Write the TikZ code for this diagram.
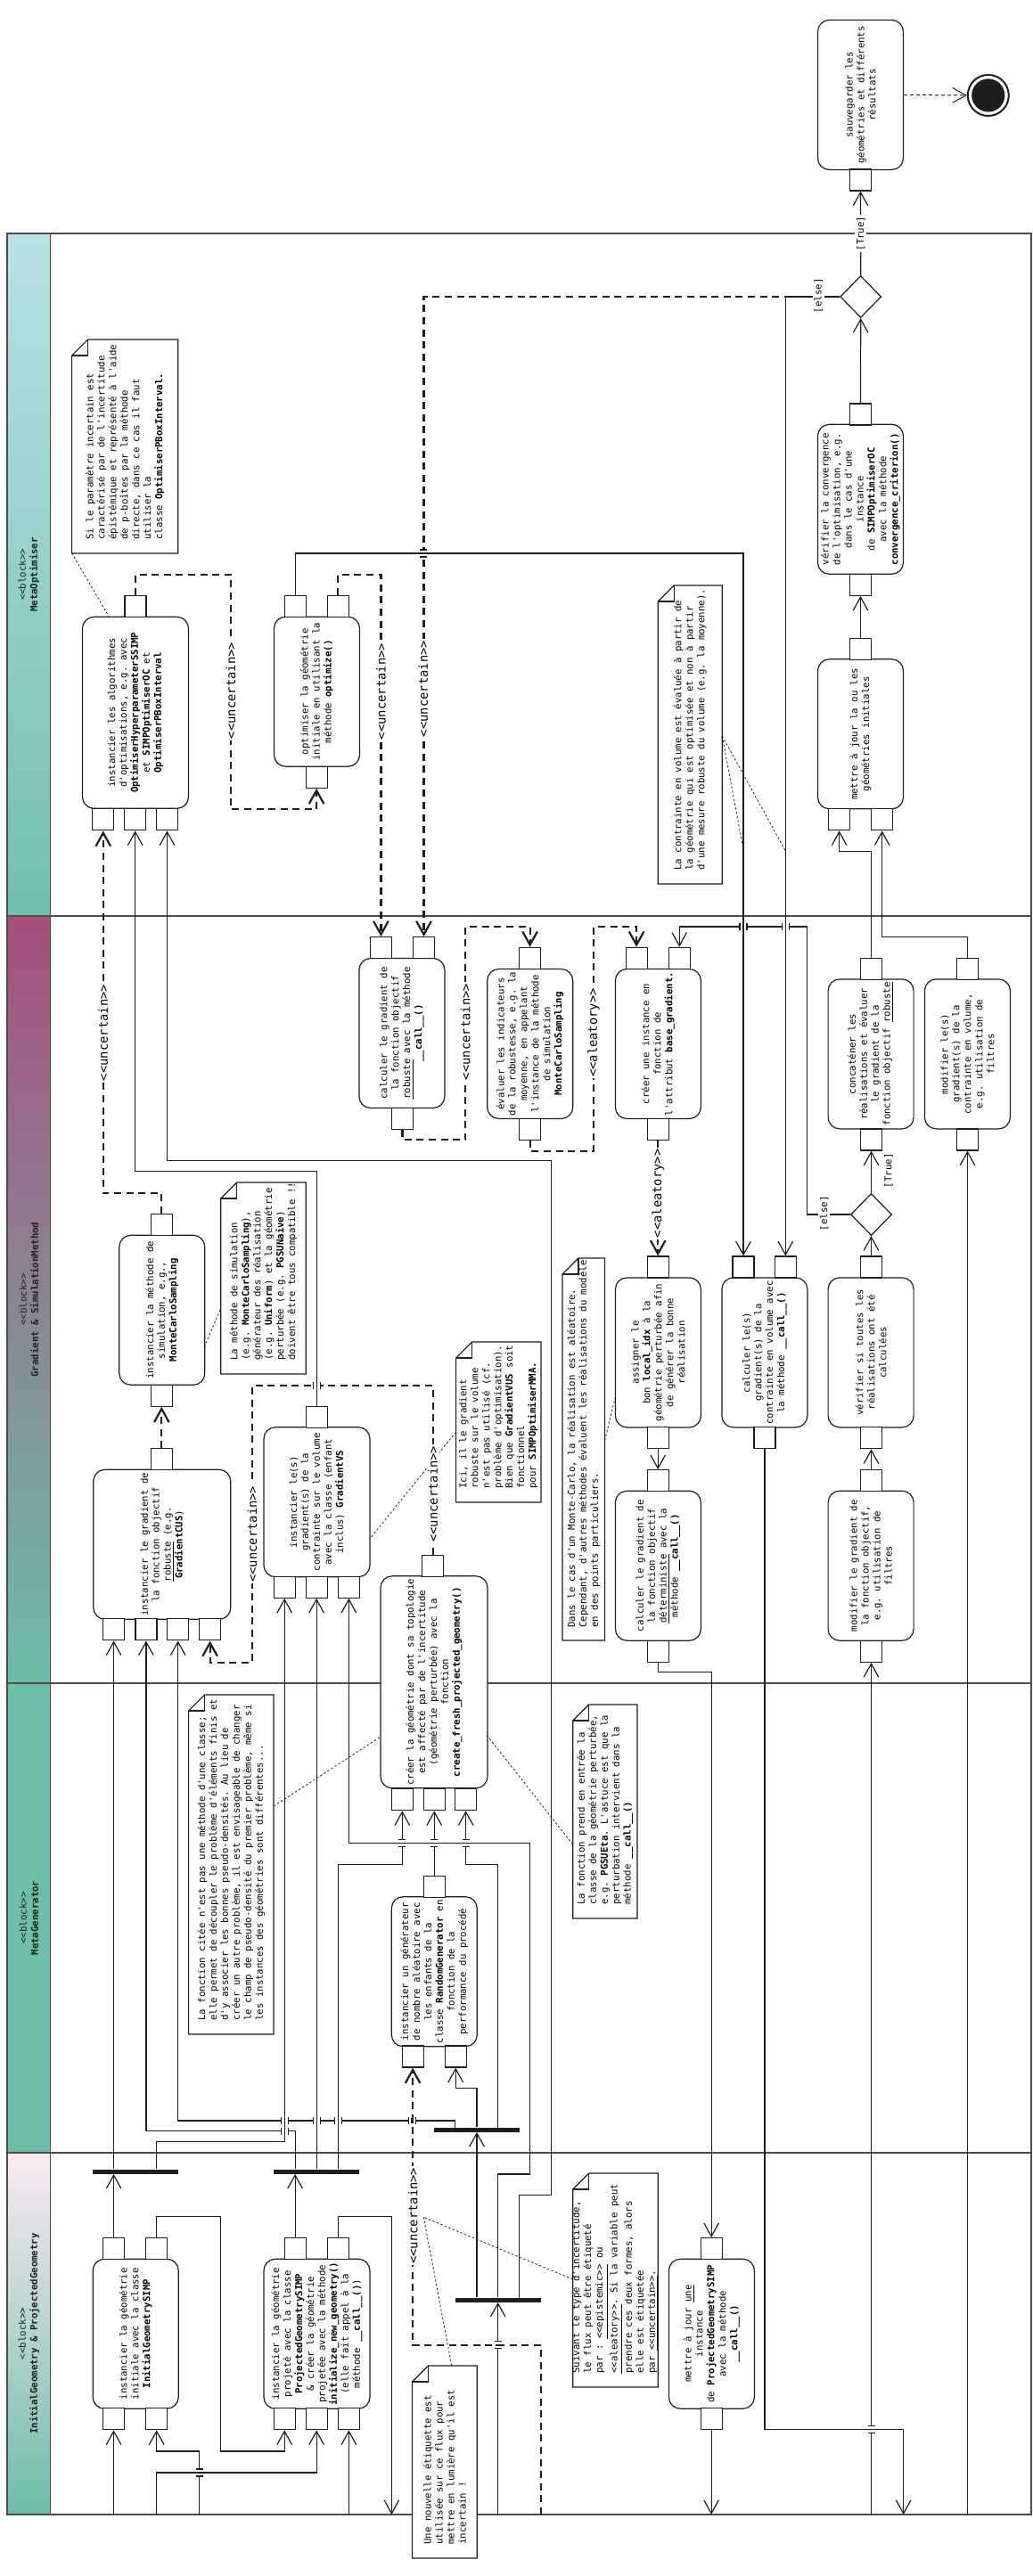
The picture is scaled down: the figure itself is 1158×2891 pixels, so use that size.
\documentclass[tikz,border=0pt]{standalone}
\usepackage{fontspec}
\setmonofont{DejaVu Sans Mono}
\usetikzlibrary{arrows.meta,shapes.geometric}
\definecolor{ink}{HTML}{1E1E1E}
\definecolor{rule}{HTML}{4D4D4D}
\definecolor{optTop}{HTML}{B8E2E2}
\definecolor{optBot}{HTML}{72BFAE}
\definecolor{gradTop}{HTML}{A64F7B}
\definecolor{gradMid}{HTML}{8C8396}
\definecolor{gradBot}{HTML}{6DBDA9}
\definecolor{genFill}{HTML}{6FBEAA}
\definecolor{iniTop}{HTML}{FAEAF2}
\definecolor{iniBot}{HTML}{6DBDA9}

\newcommand\boxfont{\ttfamily\fontsize{5.35}{6.47}\selectfont}
\newcommand\stfont{\ttfamily\fontsize{6.9}{8}\selectfont}
\newcommand\st[1]{\textless\textless#1\textgreater\textgreater}
\newcommand\callm{\textbf{\_\_call\_\_()}}
% gap in a horizontal line, the vertical one passes
\newcommand\hgap[3][jmp]{%
  \fill[white] (#2-4,#3-2.6) rectangle (#2+4,#3+2.6);
  \draw[jmp] (#2-4,#3-4) -- (#2-4,#3+4) (#2+4,#3-4) -- (#2+4,#3+4);
  \draw[#1] (#2,#3-3) -- (#2,#3+3);}
% gap in a vertical line, the horizontal one passes
\newcommand\vgap[3][jmp]{%
  \fill[white] (#2-2.6,#3-4) rectangle (#2+2.6,#3+4);
  \draw[jmp] (#2-4,#3-4) -- (#2+4,#3-4) (#2-4,#3+4) -- (#2+4,#3+4);
  \draw[#1] (#2-3,#3) -- (#2+3,#3);}
% note outline with folded corner (top left)
\newcommand\notefr[4]{%
  \filldraw[notefr] (#1,#2+18) -- (#1+18,#2) -- (#3,#2) -- (#3,#4) -- (#1,#4) -- cycle;
  \draw[notefr,fill=none] (#1+18,#2) -- (#1+18,#2+18) -- (#1,#2+18);}

\tikzset{
  act/.style={draw=ink, line width=0.6pt, fill=white, rounded corners=6.5pt,
    rotate=90, align=center, font=\boxfont, inner sep=1pt,
    minimum width=84pt, minimum height=48pt},
  pinbox/.style={draw=ink, line width=0.6pt, fill=white, minimum size=12pt, inner sep=0pt},
  decision/.style={diamond, draw=ink, line width=0.6pt, fill=white, aspect=1,
    minimum width=23pt, minimum height=23.5pt, inner sep=0pt},
  forkbar/.style={fill=ink, minimum width=48pt, minimum height=2.5pt, inner sep=0pt},
  flow/.style={draw=ink, line width=0.6pt, -{Straight Barb[length=7.5pt,width=8.3pt]}},
  uflow/.style={flow, line width=1.1pt, dash pattern=on 4pt off 2.8pt},
  endflow/.style={flow, line width=0.5pt, dash pattern=on 2pt off 1.5pt},
  anchorline/.style={draw=ink, line width=0.4pt, dash pattern=on 1.2pt off 1.2pt},
  jmp/.style={draw=ink, line width=0.6pt},
  ujmp/.style={draw=ink, line width=1.1pt},
  guard/.style={font=\boxfont, rotate=90, inner sep=0.8pt},
  stereo/.style={font=\stfont, rotate=90, fill=white, inner sep=0.8pt},
  notetxt/.style={font=\boxfont, rotate=90, align=left, anchor=west, inner sep=0pt},
  notefr/.style={draw=ink, line width=0.6pt, fill=white},
  lanehead/.style={font=\boxfont, rotate=90, align=center, text=ink},
  lane/.style={draw=rule, line width=0.7pt},
}

\begin{document}
\begin{tikzpicture}[x=0.5pt,y=-0.5pt]
\useasboundingbox (0,0) rectangle (1158,2891);

% swimlanes
\shade[top color=optTop, bottom color=optBot] (8,262) rectangle (56.2,1028);
\shade[top color=gradTop, middle color=gradMid, bottom color=gradBot] (8,1028) rectangle (56.2,1889);
\fill[genFill] (8,1889) rectangle (56.2,2416);
\shade[top color=iniTop, bottom color=iniBot] (8,2416) rectangle (56.2,2822);
\draw[lane] (8,262) rectangle (1157,2822);
\draw[lane] (56.2,262) -- (56.2,2822);
\foreach \y in {1028,1889,2416} \draw[lane] (8,\y) -- (1157,\y);
\node[lanehead] (hopt) at (32.4,645) {\st{block}\\\textbf{MetaOptimiser}};
\node[lanehead] (hgrad) at (32.4,1458.5) {\st{block}\\\textbf{Gradient \& SimulationMethod}};
\node[lanehead] (hgen) at (32.4,2152.5) {\st{block}\\\textbf{MetaGenerator}};
\node[lanehead] (hini) at (32.4,2619) {\st{block}\\\textbf{InitialGeometry \& ProjectedGeometry}};

% end of the activity
\node[act] (save) at (965.5,106.5) {sauvegarder les\\géométries et différents\\résultats};
\node[pinbox] (saveb) at (965.5,202) {};
\node[draw=ink, circle, line width=1pt, minimum size=23pt, inner sep=0pt] (fin) at (1108.8,107) {};
\fill[ink] (fin.center) circle (9.3pt);
\node[decision] (conv) at (965.7,333) {};

% MetaOptimiser
\notefr{80.6}{381}{199.7}{621}
\node[notetxt] (nepist) at (140.2,606) {Si le paramètre incertain est\\caractérisé par de l'incertitude\\épistémique et représenté à l'aide\\de p-boîtes par la méthode\\directe, dans ce cas il faut\\utiliser la\\classe \textbf{OptimiserPBoxInterval.}};
\node[act, minimum width=107.5pt, minimum height=59.5pt] (algo) at (152,799.8) {instancier les algorithmes\\d'optimisations, e.g. avec\\\textbf{OptimiserHyperparameterSSIMP}\\et \textbf{SIMPOptimiserOC} et\\\textbf{OptimiserPBoxInterval}};
\node[pinbox] (algot) at (152,680.3) {};
\node[pinbox] (algob1) at (115.8,919.8) {};
\node[pinbox] (algob2) at (151.7,919.8) {};
\node[pinbox] (algob3) at (187.5,919.8) {};
\node[act] (optim) at (355.5,776.2) {optimiser la géométrie\\initiale en utilisant la\\méthode \textbf{optimize()}};
\node[pinbox] (optimt1) at (331.1,680.3) {};
\node[pinbox] (optimt2) at (379.2,680.3) {};
\node[pinbox] (optimb) at (355.1,872.2) {};
\notefr{738.2}{657}{810.3}{992}
\node[notetxt] (nvol) at (774.3,977) {La contrainte en volume est évaluée à partir de\\la géométrie qui est optimisée et non à partir\\d'une mesure robuste du volume (e.g. la moyenne).};
\node[act] (check) at (965.5,560.3) {vérifier la convergence\\de l'optimisation, e.g.\\dans le cas d'une\\instance\\de \textbf{SIMPOptimiserOC}\\avec la méthode\\\textbf{convergence\_criterion()}};
\node[pinbox] (checkt) at (965.5,465) {};
\node[pinbox] (checkb) at (965.5,656.3) {};
\node[act] (upd) at (965.5,823.8) {mettre à jour la ou les\\géométries initiales};
\node[pinbox] (updt) at (965.5,728.3) {};
\node[pinbox] (updb1) at (941.6,919.8) {};
\node[pinbox] (updb2) at (989.7,919.8) {};

% Gradient & SimulationMethod
\node[act] (gradrob) at (450.9,1159.5) {calculer le gradient de\\la fonction objectif\\\underline{robuste} avec la méthode\\\callm};
\node[pinbox] (gradrobt1) at (427.4,1063.7) {};
\node[pinbox] (gradrobt2) at (475.5,1063.7) {};
\node[pinbox] (gradrobb) at (451.5,1255.3) {};
\node[act] (robust) at (594.7,1171.5) {évaluer les indicateurs\\de la robustesse, e.g. la\\moyenne, en appelant\\l'instance de la méthode\\de simulation\\\textbf{MonteCarloSampling}};
\node[pinbox] (robustt) at (594.6,1075.3) {};
\node[pinbox] (robustb) at (594.6,1267.3) {};
\node[act] (basegrad) at (738.4,1171.5) {créer une instance en\\fonction de\\l'attribut \textbf{base\_gradient.}};
\node[pinbox] (basegradt1) at (714.1,1075.3) {};
\node[pinbox] (basegradt2) at (762.2,1075.3) {};
\node[pinbox] (basegradb) at (738.2,1267.3) {};
\node[act] (assign) at (738.4,1517.9) {assigner le\\bon \textbf{local\_idx} à la\\géométrie perturbée afin\\de générer la bonne\\réalisation};
\node[pinbox] (assignt) at (738.2,1422) {};
\node[pinbox] (assignb) at (738.2,1613.7) {};
\node[act] (graddet) at (738.4,1757.2) {calculer le gradient de\\la fonction objectif\\\underline{déterministe} avec la\\méthode \callm};
\node[pinbox] (graddett) at (738.2,1661.7) {};
\node[pinbox] (graddetb) at (738.2,1853.3) {};
\node[act] (gradvol) at (857.9,1517.9) {calculer le(s)\\gradient(s) de la\\contrainte en volume avec\\la méthode \callm};
\node[pinbox] (gradvolt1) at (834,1422) {};
\node[pinbox] (gradvolt2) at (881.3,1422) {};
\node[pinbox] (gradvolb) at (858,1613.7) {};
\node[act] (allreal) at (977.1,1517.9) {vérifier si toutes les\\réalisations ont été\\calculées};
\node[pinbox] (allrealt) at (977.5,1422) {};
\node[pinbox] (allrealb) at (977.5,1613.7) {};
\node[decision] (done) at (977.5,1363) {};
\node[act] (filtobj) at (977.1,1757.2) {modifier le gradient de\\la fonction objectif,\\e.g. utilisation de\\filtres};
\node[pinbox] (filtobjt) at (977.5,1661.7) {};
\node[pinbox] (filtobjb) at (977.5,1853.3) {};
\node[act] (concat) at (977.1,1182.9) {concaténer les\\réalisations et évaluer\\le gradient de la\\fonction objectif \underline{robuste}};
\node[pinbox] (concatt) at (977.5,1087.3) {};
\node[pinbox] (concatb) at (977.5,1279) {};
\node[act] (filtvol) at (1085.4,1182.9) {modifier le(s)\\gradient(s) de la\\contrainte en volume,\\e.g. utilisation de\\filtres};
\node[pinbox] (filtvolt) at (1085.5,1087.3) {};
\node[pinbox] (filtvolb) at (1085.5,1279) {};
\node[act] (simu) at (181.8,1470.3) {instancier la méthode de\\simulation, e.g.,\\\textbf{MonteCarloSampling}};
\node[pinbox] (simut) at (181.3,1374.5) {};
\node[pinbox] (simub) at (181.3,1566.2) {};
\notefr{247.8}{1327}{343.3}{1542}
\node[notetxt] (ncompat) at (295.6,1527) {La méthode de simulation\\(e.g. \textbf{MonteCarloSampling}),\\générateur des réalisation\\(e.g. \textbf{Uniform}) et la géométrie\\perturbée (e.g. \textbf{PGSUNaive})\\doivent être tous compatible !!};
\node[act, minimum height=77pt] (gradinst) at (181.8,1733.3) {instancier le gradient de\\la fonction objectif\\\underline{robuste} (e.g.\\\textbf{GradientCUS})};
\node[pinbox] (gradinstt) at (181.3,1637.8) {};
\node[pinbox] (gradinstb1) at (127.6,1828.8) {};
\node[pinbox] (gradinstb2) at (163.9,1828.8) {};
\node[pinbox] (gradinstb3) at (199.7,1828.8) {};
\node[pinbox] (gradinstb4) at (235.6,1828.8) {};
\node[act, minimum height=59.5pt] (gradvs) at (355.5,1685.7) {instancier le(s)\\gradient(s) de la\\contrainte sur le volume\\avec la classe (enfant\\inclus) \textbf{GradientVS}};
\node[pinbox] (gradvst) at (355.1,1590.3) {};
\node[pinbox] (gradvsb1) at (319.2,1781.2) {};
\node[pinbox] (gradvsb2) at (355.1,1781.2) {};
\node[pinbox] (gradvsb3) at (391.4,1781.2) {};
\notefr{511.6}{1506}{606.9}{1686}
\node[notetxt] (nvus) at (559.3,1671) {Ici, il le gradient\\robuste sur le volume\\n'est pas utilisé (cf.\\problème d'optimisation).\\Bien que \textbf{GradientVUS} soit\\fonctionnel\\pour \textbf{SIMPOptimiserMMA.}};
\notefr{630.9}{1412}{678.6}{1841}
\node[notetxt] (nmc) at (654.8,1827) {Dans le cas d'un Monte-Carlo, la réalisation est aléatoire.\\Cependant, d'autres méthodes évaluent les réalisations du modèle\\en des points particuliers.};

% MetaGenerator
\node[act, minimum width=119pt, minimum height=60pt] (fresh) at (487,1887.8) {créer la géométrie dont sa topologie\\est affecté par de l'incertitude\\(géométrie perturbée) avec la\\fonction\\\textbf{create\_fresh\_projected\_geometry()}};
\node[pinbox] (fresht) at (485.7,1757.3) {};
\node[pinbox] (freshb1) at (451.3,2019.7) {};
\node[pinbox] (freshb2) at (487.2,2019.7) {};
\node[pinbox] (freshb3) at (522.7,2019.7) {};
\node[act] (rng) at (487.3,2212.7) {instancier un générateur\\de nombre aléatoire avec\\les enfants de la\\classe \textbf{RandomGenerator} en\\fonction de la\\performance du procédé};
\node[pinbox] (rngt) at (487.2,2117.2) {};
\node[pinbox] (rngb1) at (463.1,2308) {};
\node[pinbox] (rngb2) at (511.2,2308) {};
\notefr{211.6}{1902}{307}{2283}
\node[notetxt] (nfunc) at (259.3,2268) {La fonction citée n'est pas une méthode d'une classe;\\elle permet de découpler le problème d'éléments finis et\\d'y associer les bonnes pseudo-densités. Au lieu de\\créer un autre problème, il est envisageable de changer\\le champ de pseudo-densité du premier problème, même si\\les instances des géométries sont différentes...};
\notefr{642.7}{1913}{714.9}{2153}
\node[notetxt] (neta) at (678.8,2138) {La fonction prend en entrée la\\classe de la géométrie perturbée,\\e.g. \textbf{PGSUEta}. L'astuce est que la\\perturbation intervient dans la\\méthode \callm};
\node[forkbar] (bar4) at (535,2390) {};

% InitialGeometry & ProjectedGeometry
\node[act] (initgeo) at (152.2,2619.2) {instancier la géométrie\\initiale avec la classe\\\textbf{InitialGeometrySIMP}};
\node[pinbox] (initgeot1) at (127.6,2523.7) {};
\node[pinbox] (initgeot2) at (175.7,2523.7) {};
\node[pinbox] (initgeob1) at (127.6,2714.7) {};
\node[pinbox] (initgeob2) at (175.7,2714.7) {};
\node[act, minimum height=59.5pt] (projgeo) at (355.5,2619.2) {instancier la géométrie\\projeté avec la classe\\\textbf{ProjectedGeometrySIMP}\\\& créer la géométrie\\projetée avec la méthode\\\textbf{initialize\_new\_geometry()}\\(elle fait appel à la\\méthode \callm)};
\node[pinbox] (projgeot1) at (331.1,2523.7) {};
\node[pinbox] (projgeot2) at (379.2,2523.7) {};
\node[pinbox] (projgeob1) at (319.2,2714.7) {};
\node[pinbox] (projgeob2) at (355.1,2714.7) {};
\node[pinbox] (projgeob3) at (391.4,2714.7) {};
\node[act] (updproj) at (798.4,2619.2) {mettre à jour \underline{une}\\instance\\de \textbf{ProjectedGeometrySIMP}\\avec la méthode\\\callm};
\node[pinbox] (updprojt) at (798.1,2523.7) {};
\node[pinbox] (updprojb) at (798.1,2714.7) {};
\node[forkbar] (bar1) at (151.65,2437) {};
\node[forkbar] (bar2) at (355.1,2437) {};
\node[forkbar] (bar3) at (558.7,2581) {};
\notefr{642.7}{2439}{738.2}{2679}
\node[notetxt] (ntype) at (690.5,2664) {Suivant le type d'incertitude,\\le flux peut être étiqueté\\par : \underline{\st{epistemic}} ou\\\underline{\st{aleatory}}. Si la variable peut\\prendre ces deux formes, alors\\elle est étiquetée\\par \underline{\st{uncertain}}.};
\notefr{462.4}{2655}{535.3}{2871}
\node[notetxt] (nnew) at (498.9,2856) {Une nouvelle étiquette est\\utilisée sur ce flux pour\\mettre en lumière qu'il est\\incertain !};

% free ends on the lower border
\coordinate (in1) at (127.6,2822);
\coordinate (in2) at (223.8,2822);
\coordinate (in3) at (175.7,2822);
\coordinate (in4) at (606.9,2822);
\coordinate (in5) at (558.7,2822);
\coordinate (in6) at (977.5,2822);
\coordinate (in7) at (1085.5,2822);
\coordinate (in8) at (391.4,2822);
\coordinate (out1) at (439.4,2822);
\coordinate (out2) at (1013.7,2822);
\coordinate (out3) at (798.1,2822);

% flows
\draw[endflow] (save.south) -- (fin.west);
\draw[flow] (conv.north) -- (saveb.south);
\draw[flow] (checkt.north) -- (conv.south);
\draw[flow] (updt.north) -- (checkb.south);
\draw[flow] (conv.west) -| (gradvolt2.north);
\draw[uflow] (conv.west) -| (gradrobt2.north);
\draw[flow] (optimt1.north) -- (331.1,621) -| (gradvolt1.north);
\draw[uflow] (algot.north) |- (258.9,645) -- (258.9,908.3) -| (optimb.south);
\draw[uflow] (optimt2.north) |- (427.4,645) -- (gradrobt1.north);
\draw[flow] (concatt.north) -- (977.5,955.7) -| (updb1.south);
\draw[flow] (filtvolt.north) -- (1085.5,1051.7) -| (updb2.south);
\draw[uflow] (gradrobb.south) -- (451.5,1279.3) -| (522.3,1040) -| (robustt.north);
\draw[uflow] (robustb.south) -- (594.6,1291.7) -| (666,1040) -| (basegradt1.north);
\draw[uflow] (basegradb.south) -- (assignt.north);
\draw[flow] (allrealt.north) -- (done.south);
\draw[flow] (done.north) -- (concatb.south);
\draw[flow] (done.west) -- (905.4,1363) |- (762.2,1040) -- (basegradt2.north);
\draw[flow] (filtobjt.north) -- (allrealb.south);
\draw[flow] (assignb.south) -- (graddett.north);
\draw[flow] (graddetb.south) -- (738.2,1876.7) -| (updprojt.north);
\draw[flow] (gradvolb.south) |- (1013.7,2726.7) -- (out2);
\draw[flow] (in6) -- (filtobjb.south);
\draw[flow] (in7) -- (filtvolb.south);
\draw[uflow] (simut.north) -- (181.3,1339.3) -| (algob1.south);
\draw[uflow] (gradinstt.north) -- (simub.south);
\draw[uflow] (fresht.north) |- (283,1555) |- (235.6,1865.7) -- (gradinstb4.south);
\draw[flow] (gradvst.north) -- (355.1,1314.3) -| (algob2.south);
\draw[flow] (initgeot1.north) -- (initgeot1.north |- bar1.south);
\draw[flow] (gradinstb1.south |- bar1.north) -- (gradinstb1.south);
\draw[flow] (initgeot2.north |- bar1.north) -- (175.7,2403.3) -| (gradvsb1.south);
\draw[flow] (projgeot1.north) -- (projgeot1.north |- bar2.south);
\draw[flow] (projgeot1.north |- bar2.north) -- (331.1,2391.7) -| (gradinstb2.south);
\draw[flow] (gradvsb2.south |- bar2.north) -- (gradvsb2.south);
\draw[flow] (projgeot2.north |- bar2.north) -- (379.2,2092.3) -| (freshb1.south);
\draw[flow] (in5) -- (bar3.south);
\draw[flow] (bar4.south |- bar3.north) -- (bar4.south);
\draw[flow] (bar3.north) |- (594.6,2440) -- (594.6,2068.3) -| (gradvsb3.south);
\draw[flow] (582.4,2578.5) |- (618.7,2463.3) |- (187.5,1302.7) -- (algob3.south);
\draw[flow] (bar4.north) |- (511.2,2343.3) -- (rngb2.south);
\draw[flow] (510.5,2387.5) -- (510.5,2380) -| (gradinstb3.south);
\draw[flow] (558.6,2387.5) |- (522.7,2092.3) -- (freshb3.south);
\draw[flow] (rngt.north) -- (freshb2.south);
\draw[uflow] (in4) |- (463.1,2631.7) -- (rngb1.south);
\draw[flow] (initgeot2.north) -- (175.7,2487.7) -| (247.8,2751) -| (projgeob1.south);
\draw[flow] (projgeot2.north) -- (379.2,2487.7) -| (out1);
\draw[flow] (in1) -- (initgeob1.south);
\draw[flow] (in2) |- (175.7,2751) -- (initgeob2.south);
\draw[flow] (in3) |- (355.1,2775) -- (projgeob2.south);
\draw[flow] (in8) -- (projgeob3.south);
\draw[flow] (updprojb.south) -- (out3);

% line jumps
\vgap[jmp]{474.6}{621}
\hgap{834}{1040}
\hgap{881.3}{1040}
\hgap{355.1}{1555}
\hgap{319.2}{2380}
\hgap{355.1}{2380}
\hgap{379.2}{2380}
\hgap[ujmp]{462.4}{2380}
\hgap{319.2}{2391.7}
\vgap{451.3}{2068.3}
\vgap{487.2}{2068.3}
\vgap{522.7}{2068.3}
\vgap[ujmp]{558.7}{2631.7}
\vgap{223.8}{2775}
\vgap{977.5}{2726.7}

% note anchors
\draw[anchorline] (80.6,620.7) -- (122,691.7);
\draw[anchorline] (810.3,826) -- (834,953.3);
\draw[anchorline] (810.3,826) -- (881.3,955);
\draw[anchorline] (229.3,1511.7) -- (247.8,1468);
\draw[anchorline] (511.6,1607) -- (415,1727);
\draw[anchorline] (307,2027) -- (427.2,1949);
\draw[anchorline] (642.7,2070) -- (546.7,1948);
\draw[anchorline] (678.6,1616.7) -- (690.8,1566);
\draw[anchorline] (642.7,2558) -- (475.3,2488.3);
\draw[anchorline] (506.8,2655) -- (475.3,2488.3);

% labels
\node[guard, fill=white] (gtrue) at (965.7,262) {[True]};
\node[guard, fill=white] (gelse) at (918.3,331.7) {[else]};
\node[guard] (gdone) at (997.1,1313.7) {[True]};
\node[guard, fill=white] (gmore) at (924.8,1361.7) {[else]};
\node[stereo] (u1) at (258.9,775) {\st{uncertain}};
\node[stereo] (u2) at (427.4,776) {\st{uncertain}};
\node[stereo] (u3) at (474.6,773) {\st{uncertain}};
\node[stereo] (u4) at (115.8,1159) {\st{uncertain}};
\node[stereo] (u5) at (522.3,1158) {\st{uncertain}};
\node[stereo] (al1) at (666,1159) {\st{aleatory}};
\node[stereo] (al2) at (738.2,1339.3) {\st{aleatory}};
\node[stereo] (u6) at (283,1721.7) {\st{uncertain}};
\node[stereo] (u7) at (485.7,1676.7) {\st{uncertain}};
\node[stereo] (u8) at (463.1,2486.7) {\st{uncertain}};
\end{tikzpicture}
\end{document}
